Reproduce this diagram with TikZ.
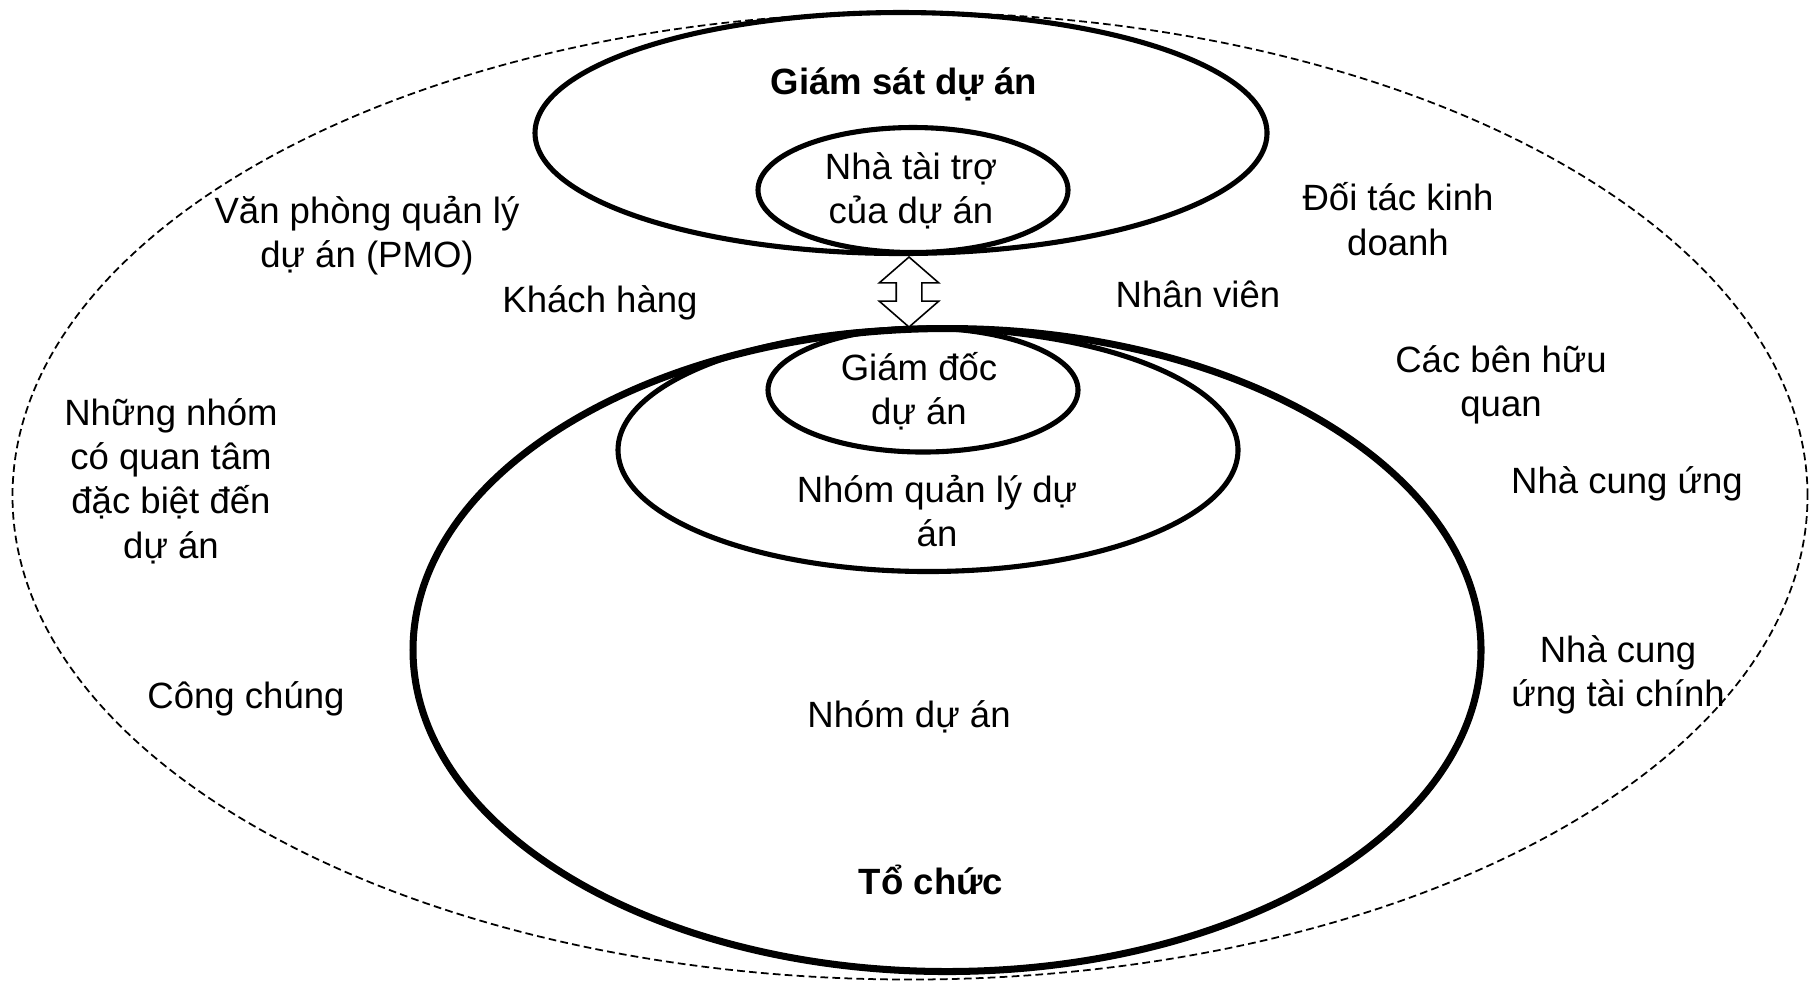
\documentclass[tikz,border=0pt]{standalone}
\usepackage{fontspec}
\setmainfont{Liberation Sans}
\usepackage{tikz}
\usetikzlibrary{shapes.geometric, shapes.arrows}
\tikzset{
  oval/.style={
    ellipse, draw=black, line width=1.45pt, inner sep=0pt,
  },
  bigoval/.style={oval, line width=2pt},
  envoval/.style={oval, line width=0.5pt, dash pattern=on 2.2pt off 1.2pt},
  lbl/.style={font=\fontsize{10.4pt}{12.6pt}\selectfont, align=center, inner sep=0pt},
}

\begin{document}
\begin{tikzpicture}[
  x=0.1mm, y=-0.1mm,
  link/.style={double arrow, draw=black, line width=0.45pt, fill=white,
               rotate=90, inner xsep=0pt, inner ysep=1.2mm, minimum height=7mm,
               double arrow head extend=1.7mm, double arrow tip angle=98},
]
  \useasboundingbox (0,0) rectangle (1812,982);

  % Environment
  \node[envoval, minimum width=179.5mm, minimum height=96.7mm] (env) at (910,496) {};

  % Upper group
  \node[oval, minimum width=73.2mm, minimum height=24.1mm] (gs)   at (901,133) {};
  \node[oval, minimum width=31.0mm, minimum height=12.5mm] (spon) at (913,190) {};

  % Lower group
  \node[bigoval, minimum width=106.8mm, minimum height=64.3mm] (org) at (947,650) {};
  \node[oval, minimum width=62.0mm, minimum height=24.3mm] (pmt) at (928,450) {};
  \node[oval, minimum width=31.0mm, minimum height=12.4mm] (pm)  at (923,390) {};

  % Link between sponsor and manager
  \node[link] (lk) at (909,292) {};

  % Labels inside
  \node[lbl, font=\fontsize{10.4pt}{12.6pt}\selectfont\bfseries] (gsT) at (904,84) {Giám sát dự án};
  \node[lbl] (sponT) at (911,191) {Nhà tài trợ\\của dự án};
  \node[lbl] (pmT)   at (919,391) {Giám đốc\\dự án};
  \node[lbl] (pmtT)  at (937,511) {Nhóm quản lý dự\\án};
  \node[lbl] (teamT) at (909,717) {Nhóm dự án};
  \node[lbl, font=\fontsize{10.4pt}{12.6pt}\selectfont\bfseries] (orgT) at (931,880) {Tổ chức};

  % Labels outside
  \node[lbl] (pmo)  at (367,236)  {Văn phòng quản lý\\dự án (PMO)};
  \node[lbl] (cust) at (600,303)  {Khách hàng};
  \node[lbl] (grp)  at (171,481)  {Những nhóm\\có quan tâm\\đặc biệt đến\\dự án};
  \node[lbl] (pub)  at (246,699)  {Công chúng};
  \node[lbl] (bp)   at (1398,219) {Đối tác kinh\\doanh};
  \node[lbl] (staff) at (1198,294) {Nhân viên};
  \node[lbl] (sh)   at (1501,385) {Các bên hữu\\quan};
  \node[lbl] (sup)  at (1627,484) {Nhà cung ứng};
  \node[lbl] (fin)  at (1618,675) {Nhà cung\\ứng tài chính};

\end{tikzpicture}
\end{document}
